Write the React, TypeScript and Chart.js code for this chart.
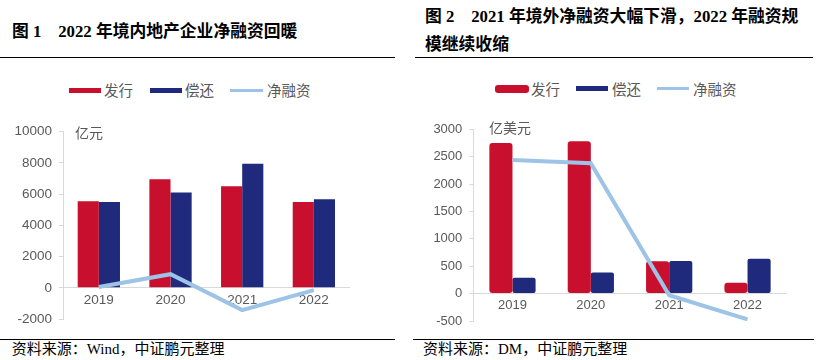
import React, { useEffect, useRef } from "react";
import { Chart, registerables } from "chart.js";

Chart.register(...registerables);

const categories = ["2019", "2020", "2021", "2022"];

// 图1 境内 (亿元)
const domesticIssue = [5550, 6950, 6500, 5500];
const domesticRepay = [5500, 6100, 7950, 5680];
const domesticNet = [50, 870, -1430, -150];
const domesticTicks = { min: -2000, max: 10000, step: 2000 };

// 图2 境外 (亿美元)
const overseasIssue = [2750, 2780, 590, 200];
const overseasRepay = [290, 385, 595, 635];
const overseasNet = [2440, 2380, -30, -470];
const overseasTicks = { min: -500, max: 3000, step: 500 };

const RED = "#C8102E";
const BLUE = "#1F2A7C";
const LIGHT = "#9DC3E6";
const GREY = "#595959";
const AXIS = "#D9D9D9";

const CJK = '"Noto Sans CJK SC", sans-serif';
const SERIF = '"Liberation Serif", "Noto Sans CJK SC", serif';

type PanelProps = {
  left: number;
  top: number;
  width: number;
  height: number;
  issue: number[];
  repay: number[];
  net: number[];
  ticks: { min: number; max: number; step: number };
  yWidth: number;
  pad: { top: number; bottom: number; right: number };
  fontSize: number;
  rounded: boolean;
};

function ChartPanel(p: PanelProps) {
  const ref = useRef<HTMLCanvasElement | null>(null);
  useEffect(() => {
    if (!ref.current) return;
    const chart = new Chart(ref.current, {
      type: "bar",
      data: {
        labels: categories,
        datasets: [
          {
            type: "line",
            label: "净融资",
            data: p.net,
            borderColor: LIGHT,
            backgroundColor: LIGHT,
            borderWidth: 4,
            pointRadius: 0,
            tension: 0,
            order: 0,
          } as any,
          {
            type: "bar",
            label: "发行",
            data: p.issue,
            backgroundColor: RED,
            borderRadius: p.rounded ? 3 : 0,
            borderSkipped: p.rounded ? false : "start",
            order: 1,
          },
          {
            type: "bar",
            label: "偿还",
            data: p.repay,
            backgroundColor: BLUE,
            borderRadius: p.rounded ? 2 : 0,
            borderSkipped: p.rounded ? false : "start",
            order: 1,
          },
        ],
      },
      options: {
        animation: false,
        responsive: true,
        maintainAspectRatio: false,
        layout: { padding: { top: p.pad.top, bottom: p.pad.bottom, left: 0, right: p.pad.right } },
        datasets: { bar: { categoryPercentage: 0.59, barPercentage: 1 } },
        plugins: { legend: { display: false }, tooltip: { enabled: false } },
        scales: {
          x: {
            position: { y: 0 } as any,
            grid: { display: true, drawOnChartArea: false, drawTicks: false, color: AXIS },
            border: { display: true, color: AXIS, width: 1 },
            ticks: {
              color: GREY,
              font: { family: '"Liberation Sans", Arial, sans-serif', size: p.fontSize },
              padding: 4,
              maxRotation: 0,
              autoSkip: false,
            },
            afterFit: (s: any) => {
              s.height = 0;
              s.paddingLeft = 0;
              s.paddingRight = 0;
            },
          },
          y: {
            position: "left",
            min: p.ticks.min,
            max: p.ticks.max,
            grid: { drawOnChartArea: false, drawTicks: true, tickLength: 4, color: AXIS },
            border: { display: true, color: AXIS, width: 1 },
            ticks: {
              stepSize: p.ticks.step,
              color: GREY,
              padding: 7,
              font: { family: '"Liberation Sans", Arial, sans-serif', size: p.fontSize },
              callback: (v: any) => String(v),
            },
            afterFit: (s: any) => {
              s.width = p.yWidth;
              s.paddingTop = 0;
              s.paddingBottom = 0;
            },
          },
        },
      },
    });
    return () => chart.destroy();
  }, []);
  return (
    <div style={{ position: "absolute", left: p.left, top: p.top, width: p.width, height: p.height }}>
      <canvas ref={ref} />
    </div>
  );
}

function Legend({ items }: { items: any[] }) {
  return (
    <>
      {items.map((it, i) => (
        <React.Fragment key={i}>
          <div
            style={{
              position: "absolute",
              left: it.x,
              top: it.y - it.h / 2,
              width: it.w,
              height: it.h,
              background: it.color,
              borderRadius: it.r || 0,
            }}
          />
          <div
            style={{
              position: "absolute",
              left: it.tx,
              top: it.y - 12,
              height: 24,
              lineHeight: "24px",
              fontFamily: CJK,
              fontSize: 14.5,
              color: GREY,
              whiteSpace: "nowrap",
            }}
          >
            {it.label}
          </div>
        </React.Fragment>
      ))}
    </>
  );
}

function Abs({ x, y, children, style }: any) {
  return (
    <div style={{ position: "absolute", left: x, top: y, whiteSpace: "pre", ...style }}>{children}</div>
  );
}

export default function App() {
  useEffect(() => {
    document.body.style.margin = "0";
  }, []);
  const titleStyle = { fontFamily: SERIF, fontWeight: "bold", fontSize: 16.8, lineHeight: "28px", color: "#000" };
  const srcStyle = { fontFamily: SERIF, fontSize: 15, lineHeight: "20px", color: "#000" };
  const unitStyle = { fontFamily: CJK, fontSize: 14, lineHeight: "20px", color: GREY };
  return (
    <div style={{ position: "absolute", left: 0, top: 0, width: 829, height: 360, background: "#fff", overflow: "hidden" }}>
      {/* Titles */}
      <Abs x={12} y={17.7} style={titleStyle}>{"图 1　2022 年境内地产企业净融资回暖"}</Abs>
      <Abs x={425} y={2.7} style={titleStyle}>
        {"图 2　2021 年境外净融资大幅下滑，2022 年融资规"}
        <br />
        {"模继续收缩"}
      </Abs>
      {/* Rules */}
      <div style={{ position: "absolute", left: 0, top: 57, width: 395, height: 1, background: "#000" }} />
      <div style={{ position: "absolute", left: 415, top: 57, width: 398, height: 1, background: "#000" }} />
      <div style={{ position: "absolute", left: 0, top: 339, width: 395, height: 1, background: "#000" }} />
      <div style={{ position: "absolute", left: 413, top: 339, width: 401, height: 1, background: "#000" }} />

      {/* Legends */}
      <Legend
        items={[
          { x: 69, y: 90, w: 32, h: 5, color: RED, label: "发行", tx: 104 },
          { x: 150, y: 90, w: 32, h: 5, color: BLUE, label: "偿还", tx: 185 },
          { x: 230, y: 90, w: 33, h: 3, color: LIGHT, label: "净融资", tx: 267 },
        ]}
      />
      <Legend
        items={[
          { x: 495, y: 88.5, w: 34, h: 8, r: 3, color: RED, label: "发行", tx: 531 },
          { x: 576, y: 88.5, w: 32, h: 5, color: BLUE, label: "偿还", tx: 612 },
          { x: 657, y: 88.5, w: 32, h: 3, color: LIGHT, label: "净融资", tx: 693 },
        ]}
      />

      {/* Charts */}
      <ChartPanel
        left={0}
        top={100}
        width={400}
        height={230}
        issue={domesticIssue}
        repay={domesticRepay}
        net={domesticNet}
        ticks={domesticTicks}
        yWidth={63}
        pad={{ top: 31.7, bottom: 11, right: 50.3 }}
        fontSize={13.5}
        rounded={false}
      />
      <ChartPanel
        left={410}
        top={100}
        width={419}
        height={230}
        issue={overseasIssue}
        repay={overseasRepay}
        net={overseasNet}
        ticks={overseasTicks}
        yWidth={63.3}
        pad={{ top: 29.3, bottom: 9, right: 42.3 }}
        fontSize={13}
        rounded={true}
      />

      {/* Units */}
      <Abs x={75} y={121.7} style={unitStyle}>亿元</Abs>
      <Abs x={489} y={116.7} style={unitStyle}>亿美元</Abs>

      {/* Sources */}
      <Abs x={11.7} y={339.3} style={srcStyle}>{"资料来源：Wind，中证鹏元整理"}</Abs>
      <Abs x={423} y={339.3} style={srcStyle}>{"资料来源：DM，中证鹏元整理"}</Abs>
    </div>
  );
}
